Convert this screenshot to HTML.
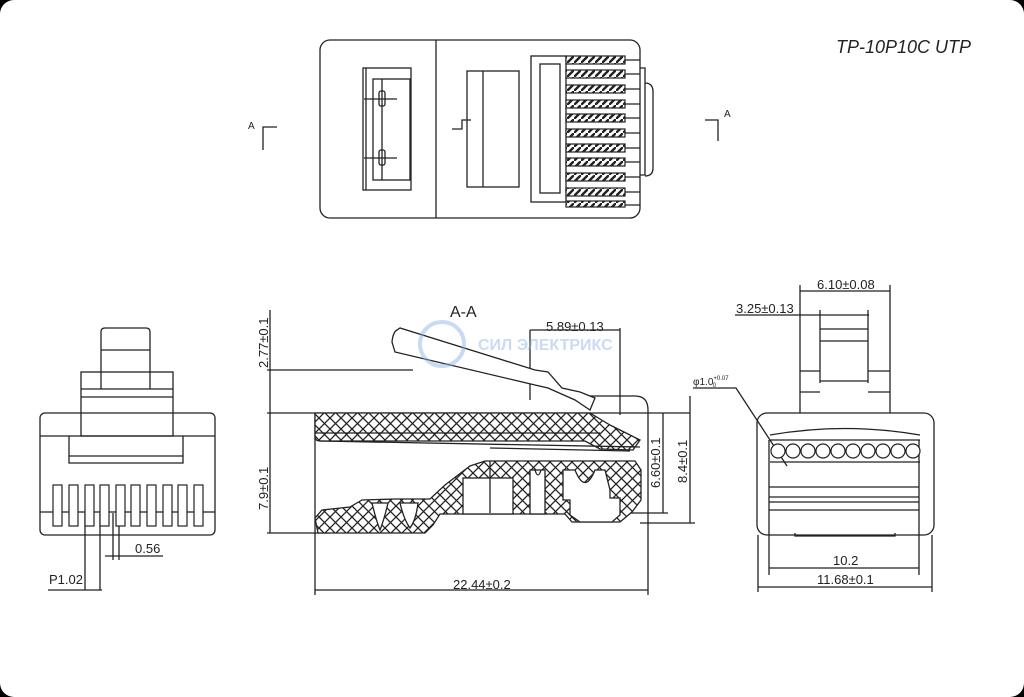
<!DOCTYPE html>
<html><head><meta charset="utf-8"><style>
html,body{margin:0;padding:0;background:#000;}
.w{position:absolute;left:0;top:0;width:1024px;height:697px;background:#fff;border-radius:14px;overflow:hidden;}
svg{position:absolute;left:0;top:0;}
text{font-family:"Liberation Sans Narrow","Liberation Sans",sans-serif;fill:#222;}
</style></head><body><div class="w">
<svg width="1024" height="697" viewBox="0 0 1024 697">
<defs>
<pattern id="h" width="11" height="11" patternUnits="userSpaceOnUse">
<rect width="11" height="11" fill="#fff"/>
<path d="M0 0L11 11M11 0L0 11" stroke="#222" stroke-width="1.3"/>
</pattern>
<pattern id="c" width="7" height="7" patternUnits="userSpaceOnUse">
<rect width="7" height="7" fill="#fff"/>
<path d="M0 7L7 0" stroke="#222" stroke-width="2.4"/>
</pattern>
</defs>
<g fill="none" stroke="#222" stroke-width="1.3">
<!-- TOP VIEW -->
<rect x="320" y="40" width="320" height="178" rx="10"/>
<line x1="436" y1="40" x2="436" y2="218"/>
<rect x="363" y="68" width="48" height="122"/>
<line x1="366" y1="68" x2="366" y2="190"/>
<rect x="373" y="79" width="37" height="101"/>
<line x1="382" y1="79" x2="382" y2="180"/>
<rect x="379" y="91" width="6" height="15" rx="2"/>
<rect x="379" y="150" width="6" height="15" rx="2"/>
<line x1="364" y1="99" x2="397" y2="99"/>
<line x1="364" y1="158" x2="397" y2="158"/>
<rect x="467" y="71" width="52" height="116"/>
<line x1="483" y1="71" x2="483" y2="187"/>
<path d="M452 129H462V120H471"/>
<rect x="531" y="56" width="35" height="146"/>
<rect x="540" y="64" width="20" height="129"/>
<path d="M640 68H645V175H640M645 83Q653 83 653 92V168Q653 176 645 176"/>
<!-- A marks -->
<path d="M277 127H263V150"/>
<path d="M705 120H718V141"/>
<!-- FRONT VIEW -->
<rect x="40" y="413" width="175" height="122" rx="5"/>
<line x1="40" y1="436" x2="215" y2="436"/>
<line x1="40" y1="512" x2="215" y2="512"/>
<rect x="81" y="372" width="92" height="64"/>
<line x1="81" y1="389" x2="173" y2="389"/>
<line x1="81" y1="397" x2="173" y2="397"/>
<path d="M101 389V332Q101 328 105 328H146Q150 328 150 332V389"/>
<line x1="101" y1="350" x2="150" y2="350"/>
<path d="M69 436V463H183V436"/>
<line x1="69" y1="456" x2="183" y2="456"/>
<line x1="85" y1="513" x2="85" y2="590"/>
<line x1="100" y1="513" x2="100" y2="590"/>
<line x1="113" y1="513" x2="113" y2="560"/>
<line x1="119" y1="513" x2="119" y2="560"/>
<line x1="105" y1="556" x2="163" y2="556"/>
<line x1="48" y1="590" x2="102" y2="590"/>
<!-- SECTION A-A -->
<line x1="267" y1="413" x2="690" y2="413"/>
<line x1="267" y1="370" x2="413" y2="370"/>
<line x1="270" y1="310" x2="270" y2="533"/>
<line x1="267" y1="533" x2="330" y2="533"/>
<line x1="315" y1="413" x2="315" y2="595"/>
<line x1="648" y1="440" x2="648" y2="595"/>
<line x1="315" y1="590" x2="648" y2="590"/>
<line x1="530" y1="330" x2="530" y2="400"/>
<line x1="620" y1="328" x2="620" y2="415"/>
<line x1="530" y1="330" x2="620" y2="330"/>
<line x1="663" y1="413" x2="663" y2="513"/>
<line x1="690" y1="396" x2="690" y2="523"/>
<line x1="620" y1="513" x2="668" y2="513"/>
<line x1="640" y1="523" x2="695" y2="523"/>
<path d="M590 396H635Q648 396 648 410V440"/>
<path d="M397 330Q393 332 392 342L395 352L535 385L548 388L575 400L590 410L595 398L580 392L562 388L548 372L535 370L400 328Z" fill="#fff"/>
<path d="M315 413H590L610 425L640 440L633 450L600 449L585 441H320Q315 441 315 436Z" fill="url(#h)"/>
<line x1="315" y1="433" x2="600" y2="433"/>
<line x1="320" y1="441" x2="640" y2="447"/>
<line x1="490" y1="448" x2="630" y2="451"/>
<path d="M318 533L315 518L322 510L350 507L362 500L395 499L430 499L445 485L470 466L485 461L635 461L641 470L641 500L632 512L620 522L572 522L565 514L440 514L433 525L425 533Z" fill="url(#h)"/>
<rect x="463" y="478" width="50" height="36" fill="#fff"/>
<rect x="530" y="470" width="15" height="44" fill="#fff"/>
<path d="M563 470L575 470Q585 495 595 470L605 470L610 490L610 498L620 498L620 515L612 522L580 522L570 515L570 500L563 500Z" fill="#fff"/>
<path d="M372 503Q376 520 380 530Q384 520 388 503Z" fill="#fff"/>
<path d="M400 503Q404 520 410 528Q416 520 418 503Z" fill="#fff"/>
<path d="M535 470Q538 480 541 470" fill="none"/>
<line x1="490" y1="461" x2="490" y2="513"/>
<!-- RIGHT VIEW -->
<rect x="757" y="413" width="177" height="122" rx="10"/>
<path d="M800 413V303M890 413V303"/>
<line x1="800" y1="285" x2="800" y2="303"/>
<line x1="890" y1="285" x2="890" y2="303"/>
<line x1="800" y1="291" x2="890" y2="291"/>
<line x1="735" y1="315" x2="869" y2="315"/>
<line x1="820" y1="310" x2="820" y2="383"/>
<line x1="868" y1="310" x2="868" y2="383"/>
<line x1="820" y1="329" x2="868" y2="329"/>
<line x1="820" y1="341" x2="868" y2="341"/>
<line x1="800" y1="371" x2="820" y2="371"/>
<line x1="868" y1="371" x2="890" y2="371"/>
<line x1="800" y1="392" x2="820" y2="392"/>
<line x1="868" y1="392" x2="890" y2="392"/>
<line x1="820" y1="381" x2="868" y2="381"/>
<path d="M770 435Q845 422 920 435"/>
<line x1="770" y1="440" x2="920" y2="440"/>
<line x1="770" y1="462" x2="920" y2="462"/>
<path d="M769 440V535M919 440V535"/>
<line x1="769" y1="487" x2="919" y2="487"/>
<line x1="769" y1="497" x2="919" y2="497"/>
<line x1="769" y1="502" x2="919" y2="502"/>
<line x1="769" y1="510" x2="919" y2="510"/>
<path d="M795 533V536H895V533"/>
<line x1="769" y1="535" x2="769" y2="575"/>
<line x1="919" y1="535" x2="919" y2="575"/>
<line x1="758" y1="535" x2="758" y2="592"/>
<line x1="932" y1="535" x2="932" y2="592"/>
<line x1="769" y1="568" x2="919" y2="568"/>
<line x1="758" y1="587" x2="932" y2="587"/>
<path d="M693 388H736L787 466"/>
</g>
<!-- top-view contacts -->
<g stroke="#222" stroke-width="1.2">
<rect x="566" y="56" width="59" height="8" fill="url(#c)"/>
<rect x="566" y="70" width="59" height="8" fill="url(#c)"/>
<rect x="566" y="85" width="59" height="8" fill="url(#c)"/>
<rect x="566" y="100" width="59" height="8" fill="url(#c)"/>
<rect x="566" y="114" width="59" height="8" fill="url(#c)"/>
<rect x="566" y="129" width="59" height="8" fill="url(#c)"/>
<rect x="566" y="144" width="59" height="8" fill="url(#c)"/>
<rect x="566" y="158" width="59" height="8" fill="url(#c)"/>
<rect x="566" y="173" width="59" height="8" fill="url(#c)"/>
<rect x="566" y="188" width="59" height="8" fill="url(#c)"/>
<rect x="566" y="201" width="59" height="6" fill="url(#c)"/>
<path d="M625 60H640M625 74H640M625 89H640M625 104H640M625 118H640M625 133H640M625 148H640M625 162H640M625 177H640M625 192H640M625 205H640" fill="none"/>
</g>
<!-- front contacts -->
<g fill="#fff" stroke="#222" stroke-width="1.2">
<rect x="53" y="485" width="9" height="41"/><rect x="69" y="485" width="9" height="41"/><rect x="85" y="485" width="9" height="41"/><rect x="100" y="485" width="9" height="41"/><rect x="116" y="485" width="9" height="41"/><rect x="131" y="485" width="9" height="41"/><rect x="147" y="485" width="9" height="41"/><rect x="163" y="485" width="9" height="41"/><rect x="178" y="485" width="9" height="41"/><rect x="194" y="485" width="9" height="41"/>
</g>
<!-- right circles -->
<g fill="#fff" stroke="#222" stroke-width="1.2">
<circle cx="778" cy="451" r="7"/><circle cx="793" cy="451" r="7"/><circle cx="808" cy="451" r="7"/><circle cx="823" cy="451" r="7"/><circle cx="838" cy="451" r="7"/><circle cx="853" cy="451" r="7"/><circle cx="868" cy="451" r="7"/><circle cx="883" cy="451" r="7"/><circle cx="898" cy="451" r="7"/><circle cx="913" cy="451" r="7"/>
</g>
<!-- watermark -->
<g opacity="0.45">
<circle cx="442" cy="344" r="22" fill="none" stroke="#8ab0e8" stroke-width="4"/>
<text x="478" y="350" font-size="16" font-weight="bold" style="fill:#8ab0e8">СИЛ ЭЛЕКТРИКС</text>
</g>
<!-- labels -->
<text x="836" y="53" font-size="18" font-style="italic" style="font-family:'Liberation Sans',sans-serif">TP-10P10C UTP</text>
<text x="248" y="129" font-size="10">A</text>
<text x="724" y="117" font-size="10">A</text>
<text x="450" y="317" font-size="16">A-A</text>
<text x="546" y="331" font-size="13">5.89±0.13</text>
<text x="453" y="589" font-size="13">22.44±0.2</text>
<text x="135" y="553" font-size="13">0.56</text>
<text x="49" y="584" font-size="13">P1.02</text>
<text x="817" y="289" font-size="13">6.10±0.08</text>
<text x="736" y="313" font-size="13">3.25±0.13</text>
<text x="693" y="385" font-size="10">φ1.0<tspan font-size="6" dy="-5">+0.07</tspan><tspan font-size="6" dx="-16" dy="7">0</tspan></text>
<text x="833" y="565" font-size="13">10.2</text>
<text x="817" y="584" font-size="13">11.68±0.1</text>
<text transform="translate(268,368) rotate(-90)" font-size="13">2.77±0.1</text>
<text transform="translate(268,510) rotate(-90)" font-size="13">7.9±0.1</text>
<text transform="translate(660,488) rotate(-90)" font-size="13">6.60±0.1</text>
<text transform="translate(687,483) rotate(-90)" font-size="13">8.4±0.1</text>
</svg></div></body></html>
